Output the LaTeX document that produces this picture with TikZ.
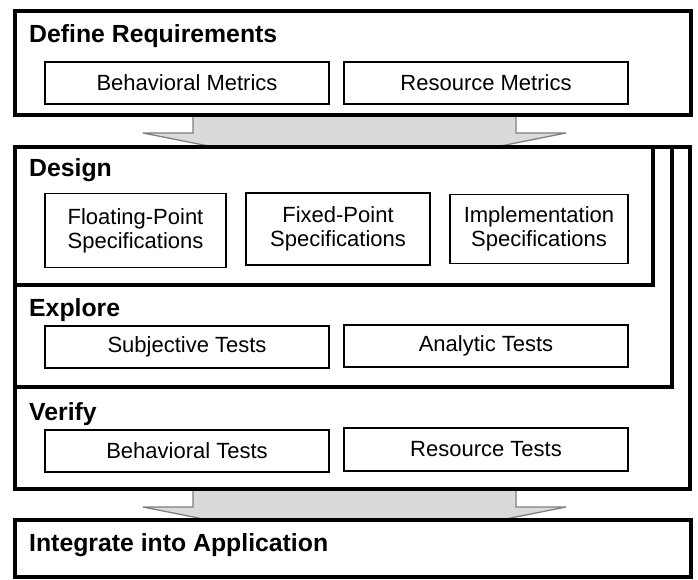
\documentclass[tikz,border=0pt]{standalone}
\usepackage{fontspec}
\setmainfont{Liberation Sans}
\usetikzlibrary{calc}
\definecolor{arrowfill}{RGB}{218,218,218}
\definecolor{arrowline}{RGB}{128,128,128}
\tikzset{
  outerbox/.style={draw, line width=3.3pt, fill=white, inner sep=0pt},
  framebox/.style={draw, line width=3.3pt, inner sep=0pt},
  inbox/.style={draw, line width=1.3pt, fill=white, inner sep=0pt, align=center,
    font=\fontsize{22}{24}\selectfont},
  ttl/.style={anchor=base west, inner sep=0pt, font=\bfseries\fontsize{24.8}{28}\selectfont},
  flowarrow/.style={draw=arrowline, fill=arrowfill, line width=1.3pt, line join=miter}
}
\begin{document}
\begin{tikzpicture}[x=1pt,y=-1pt]
\useasboundingbox (0,0) rectangle (698,580);
% arrows (drawn first, covered by boxes)
\coordinate (a1) at (354.5,115);
\coordinate (a2) at (354.5,489);
\foreach \a in {a1,a2}{
  \draw[flowarrow] ($(\a)+(-161.5,0)$) -- ($(\a)+(-161.5,18)$) -- ($(\a)+(-211.5,18)$)
    -- ($(\a)+(0,60)$) -- ($(\a)+(211.5,18)$) -- ($(\a)+(161.5,18)$) -- ($(\a)+(161.5,0)$) -- cycle;
}
% Define Requirements
\node[outerbox, minimum width=676pt, minimum height=104pt] (req) at (353,63) {};
\node[ttl] (reqt) at (29,43) {Define Requirements};
\node[inbox, minimum width=284pt, minimum height=42pt] (bm) at (187,83) {Behavioral Metrics};
\node[inbox, minimum width=284pt, minimum height=42pt] (rm) at (486,83) {Resource Metrics};
% Verify / Explore / Design nested frames
\node[outerbox, minimum width=675pt, minimum height=342pt] (ver) at (352.5,318) {};
\node[framebox, minimum width=657pt, minimum height=240pt] (exp) at (343.5,267) {};
\node[framebox, minimum width=638pt, minimum height=138pt] (des) at (334,216) {};
% Design
\node[ttl] (dest) at (29,177) {Design};
\node[inbox, minimum width=181pt, minimum height=74pt] (fl) at (135.5,230.5) {Floating-Point\\Specifications};
\node[inbox, minimum width=184pt, minimum height=72pt] (fx) at (338,229) {Fixed-Point\\Specifications};
\node[inbox, minimum width=178pt, minimum height=69pt] (im) at (539,229) {Implementation\\Specifications};
% Explore
\node[ttl] (expt) at (29,316) {Explore};
\node[inbox, minimum width=284pt, minimum height=42pt] (st) at (187,347) {Subjective Tests};
\node[inbox, minimum width=284pt, minimum height=42pt] (at) at (486,346) {Analytic Tests};
% Verify
\node[ttl] (vert) at (29,420) {Verify};
\node[inbox, minimum width=284pt, minimum height=42pt] (bt) at (187,451) {Behavioral Tests};
\node[inbox, minimum width=284pt, minimum height=43pt] (rt) at (486,449.5) {Resource Tests};
% Integrate
\node[outerbox, minimum width=676pt, minimum height=57pt] (int) at (353,548.5) {};
\node[ttl] (intt) at (29,551) {Integrate into Application};
\end{tikzpicture}
\end{document}
